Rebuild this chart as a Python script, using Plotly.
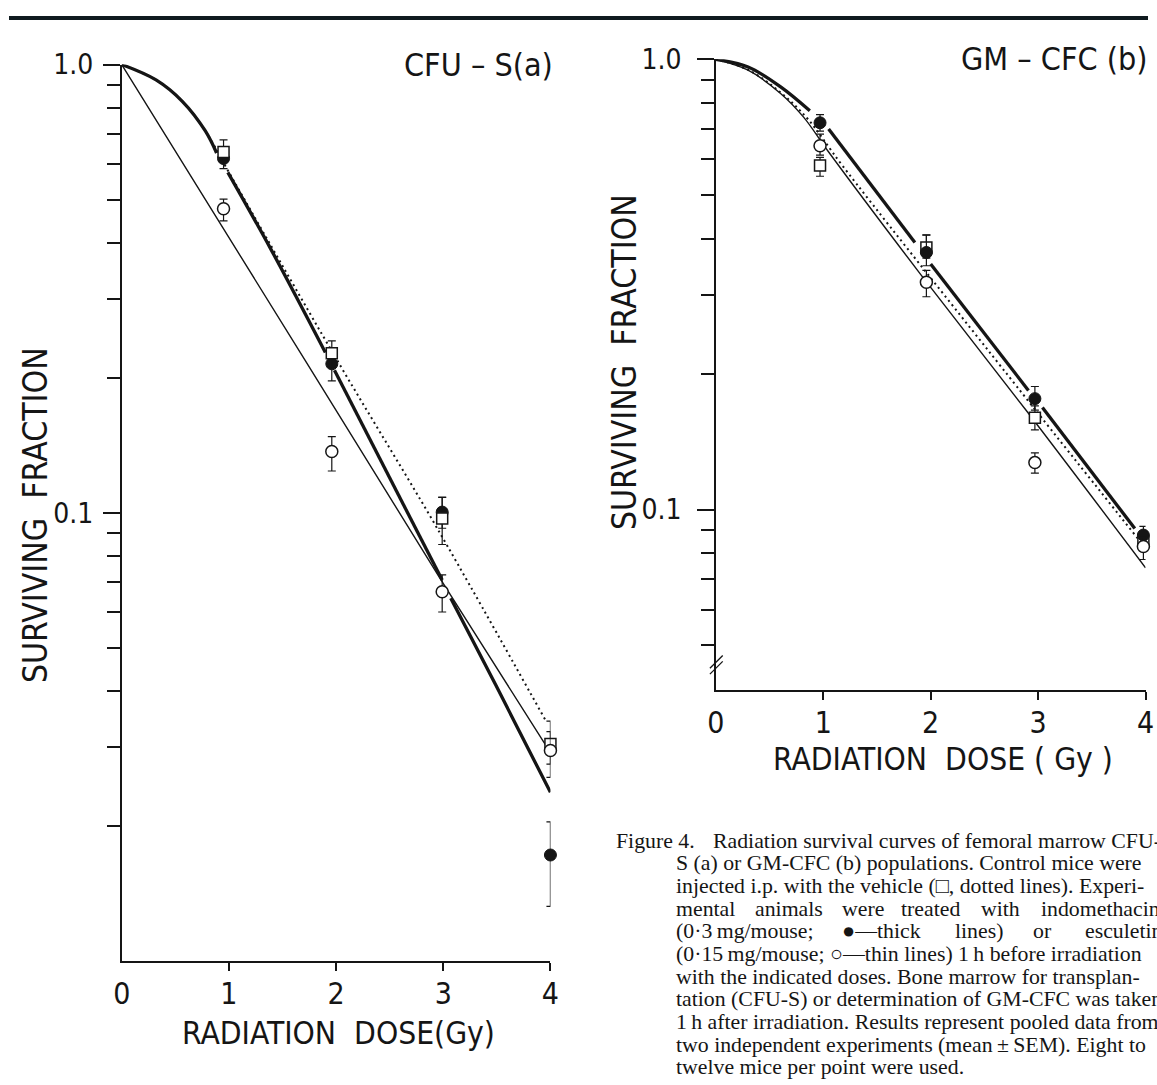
import plotly.graph_objects as go

W, H = 1157, 1085

# ---------------- Panel (a): CFU-S ----------------
dose_a = [0.95, 1.96, 2.99, 4.0]
a_indo = [0.617, 0.215, 0.1004, 0.01725]          # filled circles (indomethacin)
a_indo_up = [0.03, 0.012, 0.008, 0.0032]
a_indo_dn = [0.031, 0.018, 0.008, 0.004]
a_ctrl = [0.638, 0.227, 0.0972, 0.0305]           # open squares (vehicle)
a_ctrl_up = [0.041, 0.015, 0.011, 0.0038]
a_ctrl_dn = [0.03, 0.015, 0.0122, 0.003]
a_esc = [0.477, 0.137, 0.0667, 0.0295]            # open circles (esculetin)
a_esc_up = [0.024, 0.011, 0.006, 0.003]
a_esc_dn = [0.029, 0.013, 0.0066, 0.0038]

a_thick_dose = [0, 0.32, 0.565, 0.78, 0.885, None, 0.99, 1.39, 1.90, None, 1.985, 2.99, None, 3.07, 3.49, 4.0]
a_thick_sf = [1.0, 0.924, 0.828, 0.711, 0.635, None, 0.575, 0.388, 0.228, None, 0.208, 0.0708, None, 0.0645, 0.0413, 0.0238]
a_thin_dose = [0, 1.71, 2.98, 3.96]
a_thin_sf = [1.0, 0.219, 0.0708, 0.0302]
a_dot_dose = [0, 0.32, 0.565, 0.78, 1.0, 2.01, 2.95, 3.95]
a_dot_sf = [1.0, 0.924, 0.828, 0.711, 0.575, 0.219, 0.0918, 0.0346]

# ---------------- Panel (b): GM-CFC ----------------
dose_b = [0.97, 1.96, 2.97, 3.98]
b_indo = [0.723, 0.3725, 0.1764, 0.0878]
b_indo_up = [0.031, 0.035, 0.0113, 0.004]
b_indo_dn = [0.03, 0.0245, 0.01, 0.004]
b_ctrl = [0.581, 0.382, 0.160, 0.085]
b_ctrl_up = [0.025, 0.025, 0.01, 0.004]
b_ctrl_dn = [0.031, 0.02, 0.0096, 0.004]
b_esc = [0.643, 0.320, 0.1272, 0.0828]
b_esc_up = [0.039, 0.02, 0.0065, 0.004]
b_esc_dn = [0.03, 0.023, 0.0067, 0.0053]

b_thick_dose = [0, 0.30, 0.60, 0.875, None, 1.05, 1.853, None, 2.0, 2.91, None, 3.04, 3.9]
b_thick_sf = [1.0, 0.962, 0.870, 0.769, None, 0.70, 0.392, None, 0.351, 0.184, None, 0.1686, 0.0908]
b_thin_dose = [0, 0.30, 0.60, 0.815, 1.045, 1.915, 2.89, 4.0]
b_thin_sf = [1.0, 0.946, 0.841, 0.745, 0.625, 0.331, 0.166, 0.0743]
b_dot_dose = [0, 0.30, 0.60, 0.85, 1.185, 2.54, 3.95]
b_dot_sf = [1.0, 0.948, 0.845, 0.74, 0.578, 0.225, 0.085]

x_ticks = [0, 1, 2, 3, 4]
x_ticktext = ["0", "1", "2", "3", "4"]
y_major = [0.1, 1.0]
y_major_text = ["0.1", "1.0"]
y_minor_a = [0.2, 0.3, 0.4, 0.5, 0.6, 0.7, 0.8, 0.9, 0.02, 0.03, 0.04, 0.05, 0.06, 0.07, 0.08, 0.09]
y_minor_b = [0.2, 0.3, 0.4, 0.5, 0.6, 0.7, 0.8, 0.9, 0.05, 0.06, 0.07, 0.08, 0.09]

caption_lines = [
    "S (a) or GM-CFC (b) populations. Control mice were",
    "injected i.p. with the vehicle (\u25a1, dotted lines). Experi-",
    None,
    None,
    "(0\u00b715\u2009mg/mouse; \u25cb\u2014thin lines) 1\u2009h before irradiation",
    "with the indicated doses. Bone marrow for transplan-",
    "tation (CFU-S) or determination of GM-CFC was taken",
    "1\u2009h after irradiation. Results represent pooled data from",
    "two independent experiments (mean\u2009\u00b1\u2009SEM). Eight to",
    "twelve mice per point were used.",
]
line4_words = ["mental", "animals", "were", "treated", "with", "indomethacin"]
line4_px = [676, 756, 844, 904, 985, 1046]
line5_words = ["(0\u00b73\u2009mg/mouse;", "\u25cf\u2014thick", "lines)", "or", "esculetin"]
line5_px = [676, 844, 959, 1038, 1091]

INK = "#151515"
SANS = "DejaVu Sans Condensed, Liberation Sans Narrow, Roboto, sans-serif"
SERIF = "Liberation Serif, DejaVu Serif, serif"

fig = go.Figure()


def add_panel(xa, ya, thick_d, thick_s, thin_d, thin_s, dot_d, dot_s,
              dose, indo, iu, idn, ctrl, cu, cdn, esc, eu, edn, filled_on_top):
    fig.add_trace(go.Scatter(x=thin_d, y=thin_s, mode="lines", xaxis=xa, yaxis=ya,
                             line=dict(color=INK, width=1.4, shape="spline"), hoverinfo="skip"))
    fig.add_trace(go.Scatter(x=dot_d, y=dot_s, mode="lines", xaxis=xa, yaxis=ya,
                             line=dict(color=INK, width=2, dash="2px,3.5px", shape="spline"),
                             hoverinfo="skip"))
    fig.add_trace(go.Scatter(x=thick_d, y=thick_s, mode="lines", xaxis=xa, yaxis=ya,
                             connectgaps=False,
                             line=dict(color=INK, width=3.3, shape="spline"), hoverinfo="skip"))
    err = lambda up, dn: dict(type="data", symmetric=False, array=up, arrayminus=dn,
                              color=INK, thickness=1.2, width=4)
    filled = go.Scatter(x=dose, y=indo, mode="markers", xaxis=xa, yaxis=ya, error_y=err(iu, idn),
                        cliponaxis=False,
                        marker=dict(symbol="circle", size=12, color=INK, line=dict(color=INK, width=1)))
    square = go.Scatter(x=dose, y=ctrl, mode="markers", xaxis=xa, yaxis=ya, error_y=err(cu, cdn),
                        cliponaxis=False,
                        marker=dict(symbol="square", size=11, color="white", line=dict(color=INK, width=1.5)))
    openc = go.Scatter(x=dose, y=esc, mode="markers", xaxis=xa, yaxis=ya, error_y=err(eu, edn),
                       cliponaxis=False,
                       marker=dict(symbol="circle", size=12, color="white", line=dict(color=INK, width=1.5)))
    if filled_on_top:
        fig.add_trace(square)
        fig.add_trace(filled)
    else:
        fig.add_trace(filled)
        fig.add_trace(square)
    fig.add_trace(openc)


add_panel("x", "y", a_thick_dose, a_thick_sf, a_thin_dose, a_thin_sf, a_dot_dose, a_dot_sf,
          dose_a, a_indo, a_indo_up, a_indo_dn, a_ctrl, a_ctrl_up, a_ctrl_dn,
          a_esc, a_esc_up, a_esc_dn, filled_on_top=False)
add_panel("x2", "y2", b_thick_dose, b_thick_sf, b_thin_dose, b_thin_sf, b_dot_dose, b_dot_sf,
          dose_b, b_indo, b_indo_up, b_indo_dn, b_ctrl, b_ctrl_up, b_ctrl_dn,
          b_esc, b_esc_up, b_esc_dn, filled_on_top=True)


def px_x(p):
    return p / W


def px_y(p):
    return 1 - p / H


def xaxis_cfg(x0, x1, anchor):
    return dict(domain=[px_x(x0), px_x(x1)], range=[0, 4], anchor=anchor,
                showline=True, linecolor=INK, linewidth=1.6, showgrid=False, zeroline=False,
                tickmode="array", tickvals=x_ticks, ticktext=x_ticktext, ticks="",
                ticklabelstandoff=5,
                tickfont=dict(family=SANS, size=30, color=INK),
                minor=dict(tickmode="array", tickvals=[1, 2, 3, 4], ticks="outside",
                           ticklen=8, tickwidth=1.5, tickcolor=INK, showgrid=False))


def yaxis_cfg(y_top, y_bot, lo, anchor, minor_vals, standoff):
    return dict(domain=[px_y(y_bot), px_y(y_top)], type="log", range=[lo, 0], anchor=anchor,
                showline=True, linecolor=INK, linewidth=1.6, showgrid=False, zeroline=False,
                tickmode="array", tickvals=y_major, ticktext=y_major_text, ticks="outside",
                ticklen=17, tickwidth=1.5, tickcolor=INK, ticklabelstandoff=standoff,
                tickfont=dict(family=SANS, size=28, color=INK),
                minor=dict(tickmode="array", tickvals=minor_vals, ticks="outside",
                           ticklen=13, tickwidth=1.5, tickcolor=INK, showgrid=False))


annotations = []


def text(s, cx, cy, size, family=SANS, angle=0, xanchor="center"):
    annotations.append(dict(text=s, x=px_x(cx), y=px_y(cy), xref="paper", yref="paper",
                            xanchor=xanchor, yanchor="middle", showarrow=False, textangle=angle,
                            font=dict(family=family, size=size, color=INK)))


text("SURVIVING  FRACTION", 27, 507, 33.5, angle=-90)
text("SURVIVING  FRACTION", 626, 351, 33.5, angle=-90)
text("CFU \u2013 S(a)", 477, 50, 32)
text("GM \u2013 CFC (b)", 1062, 44, 32)
text("RADIATION  DOSE(Gy)", 335, 1032, 31.5)
text("RADIATION  DOSE ( Gy )", 949, 754, 31.5)

CAP = 21.8
y0, dy = 837, 23.0
text("Figure 4.", 615, y0, CAP, family=SERIF, xanchor="left")
text("Radiation survival curves of femoral marrow CFU-", 713, y0, CAP, family=SERIF, xanchor="left")
for k, line in enumerate(caption_lines):
    if line is not None:
        text(line, 676, y0 + dy * (k + 1), CAP, family=SERIF, xanchor="left")
for w, p in zip(line4_words, line4_px):
    text(w, p, y0 + dy * 3, CAP, family=SERIF, xanchor="left")
for w, p in zip(line5_words, line5_px):
    text(w, p, y0 + dy * 4, CAP, family=SERIF, xanchor="left")

shapes = [
    dict(type="rect", xref="paper", yref="paper", x0=0, x1=1, y0=px_y(4), y1=1,
         fillcolor="#0f1a1f", line=dict(width=0), layer="above"),
    dict(type="line", xref="paper", yref="paper", x0=px_x(712), y0=px_y(662), x1=px_x(725), y1=px_y(649),
         line=dict(color=INK, width=1.3)),
    dict(type="line", xref="paper", yref="paper", x0=px_x(712), y0=px_y(668), x1=px_x(725), y1=px_y(655),
         line=dict(color=INK, width=1.3)),
]

fig.update_layout(
    width=W, height=H, margin=dict(l=0, r=0, t=0, b=0),
    paper_bgcolor="white", plot_bgcolor="white", showlegend=False,
    xaxis=xaxis_cfg(114.5, 550, "y"),
    yaxis=yaxis_cfg(49.3, 959.3, -2, "x", y_minor_a, 4),
    xaxis2=xaxis_cfg(718, 1154.5, "y2"),
    yaxis2=yaxis_cfg(44, 684.3, -1.401, "x2", y_minor_b, 10),
    annotations=annotations, shapes=shapes,
)

fig.write_html(
    "out.html",
    post_script="document.body.style.margin='0';document.body.style.padding='0';"
                "document.body.style.overflow='hidden';",
)
